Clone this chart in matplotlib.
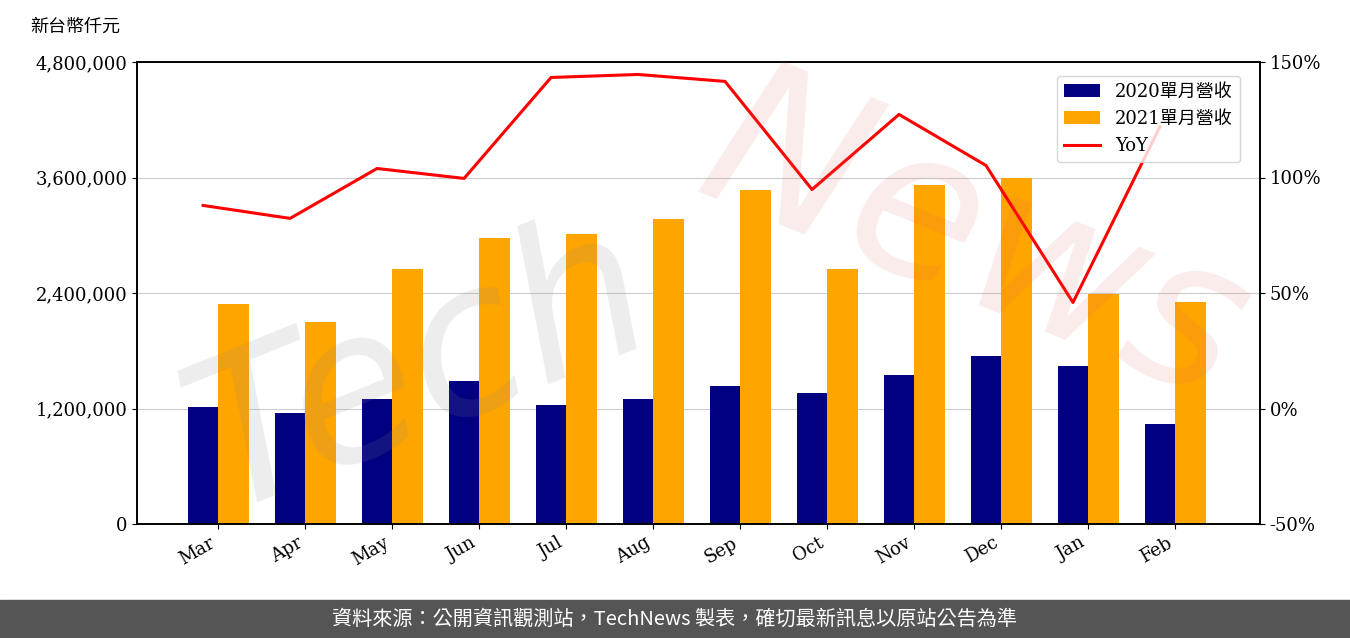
import matplotlib
matplotlib.use("Agg")
import matplotlib.pyplot as plt
import numpy as np

months = ["Mar","Apr","May","Jun","Jul","Aug","Sep","Oct","Nov","Dec","Jan","Feb"]
rev2020 = [1216000,1153000,1300000,1486000,1236000,1300000,1434000,1361000,1548000,1745000,1642000,1039000]
rev2021 = [2286000,2099000,2649000,2971000,3013000,3169000,3470000,2649000,3522000,3595000,2390000,2306000]
yoy = [87.9,82.3,103.9,99.6,143.3,144.6,141.6,94.8,127.3,105.2,45.9,122.0]

fam = ['DejaVu Serif','Noto Sans CJK TC']
plt.rcParams['font.family'] = fam

fig = plt.figure(figsize=(13.5,6.38), dpi=100)
ax = fig.add_axes([137/1350, 1-524/638, (1260-137)/1350, 462/638])
x = np.arange(len(months))
w = 0.35
ax.bar(x, rev2020, w, color='#000080', label='2020單月營收', zorder=2)
ax.bar(x+w, rev2021, w, color='#FFA500', label='2021單月營收', zorder=2)
ax.set_ylim(0,4800000)
ax.set_yticks([0,1200000,2400000,3600000,4800000])
ax.set_yticklabels([f"{v:,}" for v in [0,1200000,2400000,3600000,4800000]], fontsize=13)
ax.grid(axis='y', color='#cccccc', zorder=0)
ax.set_xlim(-0.76, 12.15)
ax.set_xticks(x + w/2)
ax.set_xticklabels(months, rotation=30, ha='right', fontsize=13)
ax2 = ax.twinx()
ax2.plot(x, yoy, color='red', lw=2.2, label='YoY')
ax2.set_ylim(-50,150)
ax2.set_yticks([-50,0,50,100,150])
ax2.set_yticklabels([f"{v}%" for v in [-50,0,50,100,150]], fontsize=13)
h1,l1 = ax.get_legend_handles_labels(); h2,l2 = ax2.get_legend_handles_labels()
ax2.legend(h1+h2, l1+l2, loc='upper right', bbox_to_anchor=(0.99,0.99), prop={'family':fam,'size':13})
for a in (ax, ax2):
    for s in a.spines.values(): s.set_linewidth(1.2)
fig.text(30/1350, 1-27/638, '新台幣仟元', fontsize=13, va='center', family=['Noto Sans CJK TC'])
fig.text(0.12, 0.42, 'Tech', fontsize=150, color='#888888', alpha=0.15, rotation=22,
         ha='left', va='center', family='DejaVu Sans', fontstyle='italic')
fig.text(0.5, 0.62, 'News', fontsize=150, color='#e06060', alpha=0.12, rotation=-22,
         ha='left', va='center', family='DejaVu Sans', fontstyle='italic')
fig.patches.append(plt.Rectangle((0,0),1,38/638, transform=fig.transFigure, color='#555555', zorder=0))
fig.text(0.5, 19/638, '資料來源：公開資訊觀測站，TechNews 製表，確切最新訊息以原站公告為準',
         color='white', fontsize=14.5, ha='center', va='center', family=['Noto Sans CJK TC'])
fig.savefig('out.png', dpi=100)
